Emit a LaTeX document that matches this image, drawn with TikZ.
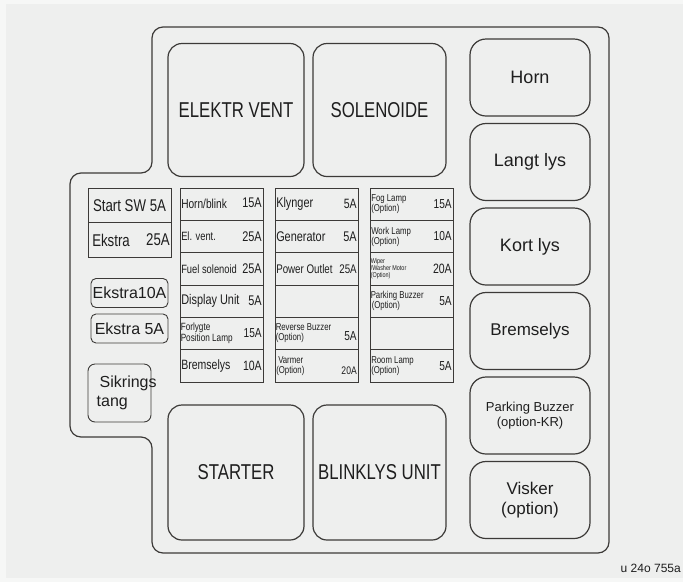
\documentclass[tikz,border=0pt]{standalone}
\usepackage{fontspec}
\setmainfont{Liberation Sans}
\newfontfamily\narrowfont[FakeStretch=0.78]{Liberation Sans}
\usetikzlibrary{positioning}
\definecolor{cLine}{HTML}{3C3A38}
\definecolor{cPanel}{HTML}{EEEFEE}
\definecolor{cEdge}{HTML}{F6F7F6}
\definecolor{cText}{HTML}{1E1E1E}
\newcommand{\nfs}[1]{\narrowfont\fontsize{#1}{#1}\linespread{1.0}\selectfont}
\newcommand{\rfs}[1]{\fontsize{#1}{#1}\linespread{1.15}\selectfont}
\tikzset{
  relay/.style={draw=cLine, line width=1.2pt, rounded corners=14pt, minimum width=133pt, minimum height=133pt, font=\nfs{21.5}, text=cText},
  lamp/.style={draw=cLine, line width=1.2pt, rounded corners=16pt, minimum width=120pt, minimum height=77pt, align=center, text=cText},
  cell/.style={draw=cLine, line width=0.9pt, minimum width=83pt, minimum height=32.3pt, inner sep=0pt, text=cText},
  spare/.style={draw=cLine, line width=0.9pt, rounded corners=5pt, minimum width=77pt, minimum height=29pt, inner sep=0pt, font=\rfs{16}, text=cText},
  lbl/.style={anchor=west, inner sep=1.5pt, align=left, text=cText},
  amp/.style={anchor=east, inner sep=1.5pt, text=cText},
}
\begin{document}
\begin{tikzpicture}[x=1pt,y=-1pt]
  % panel
  \fill[cEdge] (0,0) rectangle (683,582);
  \fill[cPanel] (6,4) rectangle (683,578);
  \draw[cLine, line width=1.2pt, rounded corners=11pt]
    (110,173) -- (152,173) -- (152,27) -- (609,27) -- (609,553) -- (152,553)
    -- (152,437) -- (70,437) -- (70,173) -- cycle;

  % relays
  \node[relay, minimum width=136pt] (vent) at (236,110) {ELEKTR VENT};
  \node[relay] (sol) at (379.5,110) {SOLENOIDE};
  \node[relay, minimum width=136pt, minimum height=135pt] (starter) at (236,472.5) {\raisebox{-2pt}{STARTER}};
  \node[relay, minimum height=135pt] (blink) at (379.5,472.5) {\raisebox{-2pt}{BLINKLYS UNIT}};

  % lamps on the right
  \node[lamp, font=\rfs{18}] (horn) at (530,77.5) {\raisebox{-2pt}{Horn}};
  \node[lamp, font=\rfs{18}] (langt) at (530,162) {\raisebox{-1pt}{Langt lys}};
  \node[lamp, font=\rfs{18}] (kort) at (530,246.5) {\raisebox{-1pt}{Kort lys}};
  \node[lamp, font=\rfs{17}] (brems) at (530,331) {Bremselys};
  \node[lamp, font=\rfs{13}] (pbuzz) at (530,415.5) {Parking Buzzer\\(option-KR)};
  \node[lamp, font=\rfs{17}] (visker) at (530,500) {Visker\\(option)};

  % left column
  \node[cell, minimum height=34.5pt, font=\nfs{17}] (startsw) at (129.5,205.5) {Start SW 5A};
  \node[cell, minimum height=34.5pt] (ekstra) at (129.5,240) {};
  \node[lbl, font=\nfs{17}] (ekstral) at ([xshift=3pt]ekstra.west) {Ekstra};
  \node[amp, font=\nfs{17}] (ekstraa) at (ekstra.east) {25A};
  \node[spare] (ekstra10) at (129.5,293) {Ekstra10A};
  \node[spare] (ekstra5) at (129.5,328.5) {Ekstra 5A};
  \node[spare, minimum width=63pt, minimum height=58pt, rounded corners=7pt] (tang) at (119.5,393) {};
  \node[lbl, font=\rfs{16}] (tangl) at (95,393) {\hspace*{3pt}Sikrings\\tang};

  % fuse column 2
  \node[cell] (h1) at (221.5,204.2) {};
  \node[cell] (h2) at (221.5,236.5) {};
  \node[cell] (h3) at (221.5,268.8) {};
  \node[cell] (h4) at (221.5,301.2) {};
  \node[cell] (h5) at (221.5,333.5) {};
  \node[cell] (h6) at (221.5,365.8) {};
  \node[lbl, font=\nfs{13}] (h1l) at (h1.west) {Horn/blink};
  \node[amp, font=\nfs{14}] (h1a) at ([yshift=1pt]h1.east) {15A};
  \node[lbl, font=\nfs{12}] (h2l) at (h2.west) {El. vent.};
  \node[amp, font=\nfs{14}] (h2a) at (h2.east) {25A};
  \node[lbl, font=\nfs{12}] (h3l) at (h3.west) {Fuel solenoid};
  \node[amp, font=\nfs{14}] (h3a) at (h3.east) {25A};
  \node[lbl, font=\nfs{14}] (h4l) at (h4.west) {Display Unit};
  \node[amp, font=\nfs{14}] (h4a) at (h4.east) {5A};
  \node[lbl, font=\nfs{10.5}, inner sep=1pt] (h5l) at (h5.west) {Forlygte\\Position Lamp};
  \node[amp, font=\nfs{13}] (h5a) at (h5.east) {15A};
  \node[lbl, font=\nfs{13.5}] (h6l) at (h6.west) {Bremselys};
  \node[amp, font=\nfs{13.5}] (h6a) at (h6.east) {10A};

  % fuse column 3
  \node[cell] (k1) at (316.5,204.2) {};
  \node[cell] (k2) at (316.5,236.5) {};
  \node[cell] (k3) at (316.5,268.8) {};
  \node[cell] (k4) at (316.5,301.2) {};
  \node[cell] (k5) at (316.5,333.5) {};
  \node[cell] (k6) at (316.5,365.8) {};
  \node[lbl, font=\nfs{14}] (k1l) at (k1.west) {Klynger};
  \node[amp, font=\nfs{13.5}] (k1a) at (k1.east) {5A};
  \node[lbl, font=\nfs{14}] (k2l) at (k2.west) {Generator};
  \node[amp, font=\nfs{14}] (k2a) at (k2.east) {5A};
  \node[lbl, font=\nfs{12.5}] (k3l) at (k3.west) {Power Outlet};
  \node[amp, font=\nfs{12.5}] (k3a) at (k3.east) {25A};
  \node[lbl, font=\nfs{10}, inner sep=1pt] (k5l) at (k5.west) {Reverse Buzzer\\(Option)};
  \node[amp, font=\nfs{13}] (k5a) at ([yshift=-3pt]k5.east) {5A};
  \node[lbl, font=\nfs{10}] (k6l) at (k6.west) {\hspace*{2pt}Varmer\\(Option)};
  \node[amp, font=\nfs{11}] (k6a) at ([yshift=-5pt]k6.east) {20A};

  % fuse column 4
  \node[cell] (f1) at (411.5,204.2) {};
  \node[cell] (f2) at (411.5,236.5) {};
  \node[cell] (f3) at (411.5,268.8) {};
  \node[cell] (f4) at (411.5,301.2) {};
  \node[cell] (f5) at (411.5,333.5) {};
  \node[cell] (f6) at (411.5,365.8) {};
  \node[lbl, font=\nfs{10}] (f1l) at (f1.west) {Fog Lamp\\(Option)};
  \node[amp, font=\nfs{13}] (f1a) at (f1.east) {15A};
  \node[lbl, font=\nfs{10}] (f2l) at (f2.west) {Work Lamp\\(Option)};
  \node[amp, font=\nfs{13}] (f2a) at (f2.east) {10A};
  \node[lbl, font=\nfs{7}, inner sep=1pt] (f3l) at (f3.west) {Wiper\\/Washer Motor\\(Option)};
  \node[amp, font=\nfs{13.5}] (f3a) at (f3.east) {20A};
  \node[lbl, font=\nfs{10}, inner sep=1pt] (f4l) at (f4.west) {Parking Buzzer\\\hspace*{1pt}(Option)};
  \node[amp, font=\nfs{13}] (f4a) at (f4.east) {5A};
  \node[lbl, font=\nfs{10}] (f6l) at (f6.west) {Room Lamp\\(Option)};
  \node[amp, font=\nfs{13}] (f6a) at (f6.east) {5A};

  \node[anchor=east, inner sep=1pt, font=\rfs{12}, text=cText] (drawno) at (682,568) {u 24o 755a};
\end{tikzpicture}
\end{document}
